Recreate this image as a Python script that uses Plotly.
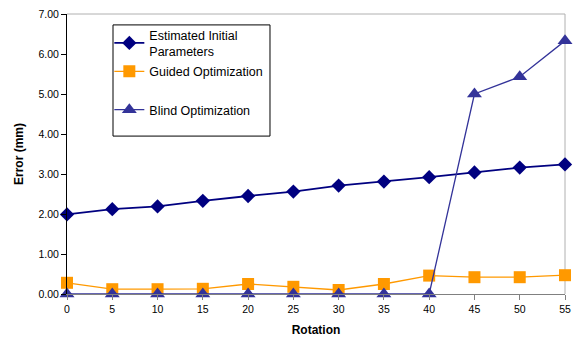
import plotly.graph_objects as go

rotation = [0, 5, 10, 15, 20, 25, 30, 35, 40, 45, 50, 55]
estimated = [1.99, 2.12, 2.19, 2.33, 2.45, 2.56, 2.71, 2.81, 2.92, 3.04, 3.16, 3.24]
guided = [0.28, 0.12, 0.12, 0.13, 0.25, 0.18, 0.10, 0.25, 0.46, 0.42, 0.42, 0.47]
blind = [0, 0, 0, 0, 0, 0, 0, 0, 0, 5.00, 5.43, 6.33]
y_ticks = [0, 1, 2, 3, 4, 5, 6, 7]

FONT = "Liberation Sans, Arial, sans-serif"

fig = go.Figure()
fig.add_trace(go.Scatter(
    x=rotation, y=estimated, name="Estimated Initial<br>Parameters",
    mode="lines+markers", line=dict(color="#000080", width=1.8),
    marker=dict(symbol="diamond", size=11, color="#000080"),
    cliponaxis=False, legendgroup="a", legend="legend"))
fig.add_trace(go.Scatter(
    x=rotation, y=guided, name="Guided Optimization",
    mode="lines+markers", line=dict(color="#FF9900", width=1.3),
    marker=dict(symbol="square", size=12, color="#FF9900"),
    cliponaxis=False, legendgroup="b", legend="legend"))
fig.add_trace(go.Scatter(
    x=rotation, y=blind, name="Blind Optimization",
    mode="lines+markers", line=dict(color="#333399", width=1.3),
    marker=dict(symbol="triangle-up", size=13, color="#333399"),
    cliponaxis=False, legendgroup="c", legend="legend2"))

legend_common = dict(
    xanchor="left", bgcolor="rgba(0,0,0,0)", borderwidth=0,
    font=dict(family=FONT, size=12.5, color="black"),
    traceorder="grouped", itemwidth=30,
)

fig.update_layout(
    width=580, height=342,
    margin=dict(l=67, r=15, t=14, b=48),
    paper_bgcolor="white", plot_bgcolor="white",
    font=dict(family=FONT, size=11, color="black"),
    showlegend=True,
    legend=dict(x=0.085, y=0.978, yanchor="top", tracegroupgap=1, **legend_common),
    legend2=dict(x=0.085, y=0.657, yanchor="middle", **legend_common),
    xaxis=dict(
        range=[0, 55], tickvals=rotation, ticktext=[str(r) for r in rotation],
        showgrid=False, zeroline=False, showline=True, linecolor="#808080",
        linewidth=1, ticks="outside", tickcolor="#808080", ticklen=5,
        automargin=False,
        tickfont=dict(family=FONT, size=10.5, color="black"),
        title=dict(text="<b>Rotation</b>", font=dict(family=FONT, size=12, color="black"), standoff=12),
    ),
    yaxis=dict(
        range=[0, 7], tickvals=y_ticks, tickformat=".2f",
        showgrid=False, zeroline=False, showline=True, linecolor="black",
        linewidth=1, ticks="outside", tickcolor="black", ticklen=5,
        automargin=False,
        tickfont=dict(family=FONT, size=10.5, color="black"),
        title=dict(text="<b>Error (mm)</b>", font=dict(family=FONT, size=12, color="black"), standoff=12),
    ),
)
# plot area border (top and right, gray)
fig.add_shape(type="line", xref="paper", yref="paper", x0=0, x1=1, y0=1, y1=1,
              line=dict(color="#B0B0B0", width=1), layer="below")
fig.add_shape(type="line", xref="paper", yref="paper", x0=1, x1=1, y0=0, y1=1,
              line=dict(color="#B0B0B0", width=1), layer="below")
# legend box
fig.add_shape(type="rect", xref="paper", yref="paper", x0=0.0924, x1=0.4076, y0=0.564, y1=0.961,
              line=dict(color="black", width=1), fillcolor="white", layer="below")

fig.write_html("out.html", config={"displayModeBar": False},
               post_script="document.body.style.margin='0';")
